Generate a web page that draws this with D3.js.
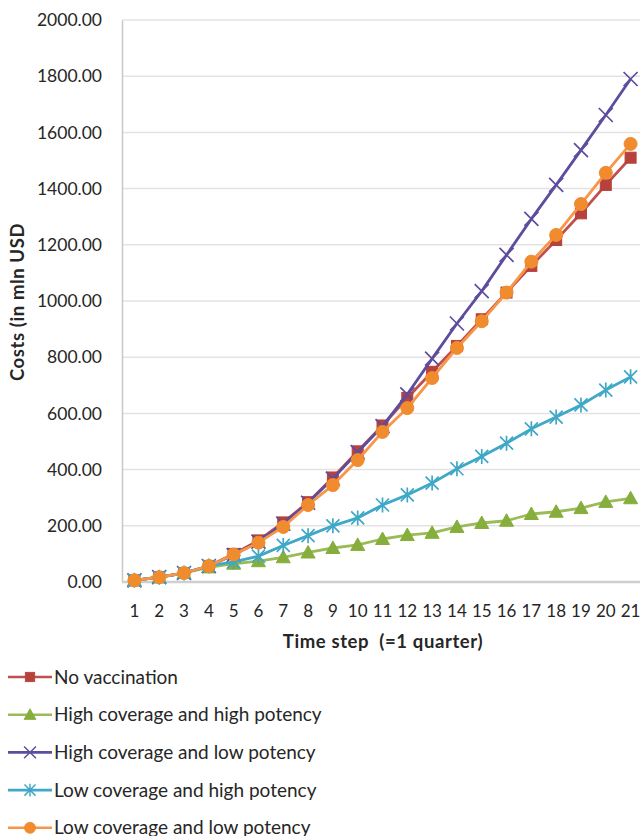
<!DOCTYPE html>
<html>
<head>
<meta charset="utf-8">
<script src="https://cdnjs.cloudflare.com/ajax/libs/d3/7.8.5/d3.min.js"></script>
<style>
  html, body { margin: 0; padding: 0; background: #fff; }
  svg { display: block; }
  text { font-family: Lato, "Open Sans", sans-serif; fill: #262626; white-space: pre; }
</style>
</head>
<body>
<svg id="chart" width="640" height="836"></svg>
<script>
// ---- data ----
const timeSteps = [1,2,3,4,5,6,7,8,9,10,11,12,13,14,15,16,17,18,19,20,21];
const yTicks = [0,200,400,600,800,1000,1200,1400,1600,1800,2000];
const seriesNames = [
  "No vaccination",
  "High coverage and high potency",
  "High coverage and low potency",
  "Low coverage and high potency",
  "Low coverage and low potency"
];
const noVaccination = [6,17,32,57,100,148,212,284,372,465,557,655,748,840,935,1030,1125,1217,1312,1413,1510];
const highCovHighPot = [6,17,32,52,65,74,88,105,121,132,153,167,175,196,210,218,242,250,263,285,298];
const highCovLowPot = [6,17,32,57,96,144,208,282,368,462,555,668,795,920,1035,1164,1292,1413,1537,1662,1790];
const lowCovHighPot = [6,17,32,57,72,92,130,165,200,228,274,310,352,403,447,494,545,587,630,683,730];
const lowCovLowPot = [6,17,32,57,98,140,196,274,345,434,534,619,726,833,928,1030,1140,1235,1345,1456,1559];
const seriesValues = [noVaccination, highCovHighPot, highCovLowPot, lowCovHighPot, lowCovLowPot];
const lineColors = ["#C0504D", "#9BBB59", "#5E4C9E", "#3FA8C6", "#F79646"];
const markerFill = ["#B7413C", "#86AE3C", "#5E4C9E", "#3FA8C6", "#F08B2E"];
const markerTypes = ["square", "triangle", "x", "star", "circle"];

// ---- layout ----
const svg = d3.select("#chart");
const plot = { left: 122, right: 643, top: 20, bottom: 582 };

const x = d3.scaleBand().domain(timeSteps).range([plot.left, plot.right]);
const y = d3.scaleLinear().domain([0, 2000]).range([plot.bottom, plot.top]);
const cx = d => x(d) + x.bandwidth() / 2;

// gridlines
svg.append("g")
  .selectAll("line")
  .data(yTicks.filter(v => v > 0))
  .join("line")
  .attr("x1", plot.left).attr("x2", 640)
  .attr("y1", d => y(d)).attr("y2", d => y(d))
  .attr("stroke", "#E3E3E3").attr("stroke-width", 1.5);

// y axis
const yAxis = d3.axisLeft(y).tickValues(yTicks).tickFormat(d3.format(".2f")).tickSize(0).tickPadding(20);
const gy = svg.append("g").attr("transform", `translate(${plot.left},0)`).call(yAxis);
gy.select(".domain").attr("stroke", "#C8C8C8").attr("stroke-width", 1.5);
gy.selectAll("text").style("font-size", "17.5px").attr("fill", "#383838");

// x axis
const xAxis = d3.axisBottom(x).tickSize(0).tickPadding(23);
const gx = svg.append("g").attr("transform", `translate(0,${plot.bottom})`).call(xAxis);
gx.select(".domain").attr("stroke", "#CFCFCF").attr("stroke-width", 2.5).attr("d", `M${plot.left},0H640`);
gx.selectAll("text").style("font-size", "17px").attr("fill", "#383838");

// axis titles
svg.append("text")
  .attr("x", 383).attr("y", 648)
  .attr("text-anchor", "middle")
  .style("font-size", "18.5px").style("font-weight", "bold").style("letter-spacing", "0.6px")
  .text("Time step  (=1 quarter)");
svg.append("text")
  .attr("transform", "translate(24,302) rotate(-90)")
  .attr("text-anchor", "middle")
  .style("font-size", "18.5px").style("font-weight", "bold").style("letter-spacing", "0.6px")
  .text("Costs (in mln USD");

// marker drawer
function drawMarker(g, type, fill, stroke) {
  if (type === "square") {
    g.append("rect").attr("x", -5.5).attr("y", -5.5).attr("width", 11).attr("height", 11)
      .attr("fill", fill).attr("stroke", stroke).attr("stroke-width", 1);
  } else if (type === "triangle") {
    g.append("path").attr("d", "M0,-7L7,5.5L-7,5.5Z")
      .attr("fill", fill).attr("stroke", stroke).attr("stroke-width", 1);
  } else if (type === "circle") {
    g.append("circle").attr("r", 6.5)
      .attr("fill", fill).attr("stroke", stroke).attr("stroke-width", 1);
  } else if (type === "x") {
    g.append("path").attr("d", "M-7,-7L7,7M-7,7L7,-7")
      .attr("stroke", stroke).attr("stroke-width", 1.7).attr("fill", "none");
  } else if (type === "star") {
    g.append("path").attr("d", "M-6.5,-6.5L6.5,6.5M-6.5,6.5L6.5,-6.5M0,-7.5L0,7.5")
      .attr("stroke", stroke).attr("stroke-width", 1.7).attr("fill", "none");
  }
}

// series
const line = d3.line().x((d, i) => cx(timeSteps[i])).y(d => y(d));
seriesValues.forEach((vals, si) => {
  const g = svg.append("g");
  g.append("path").datum(vals).attr("d", line)
    .attr("fill", "none").attr("stroke", lineColors[si]).attr("stroke-width", 2.8)
    .attr("stroke-linejoin", "round");
  vals.forEach((v, i) => {
    const m = g.append("g").attr("transform", `translate(${cx(timeSteps[i])},${y(v)})`);
    drawMarker(m, markerTypes[si], markerFill[si], markerTypes[si] === "x" || markerTypes[si] === "star" ? lineColors[si] : markerFill[si]);
  });
});

// legend
const legendY0 = 677, legendStep = 37.7;
seriesNames.forEach((name, si) => {
  const ly = legendY0 + si * legendStep;
  const g = svg.append("g");
  g.append("line").attr("x1", 8).attr("x2", 52).attr("y1", ly).attr("y2", ly)
    .attr("stroke", lineColors[si]).attr("stroke-width", 2.6);
  const m = g.append("g").attr("transform", `translate(30,${ly}) scale(0.85)`);
  drawMarker(m, markerTypes[si], markerFill[si], markerTypes[si] === "x" || markerTypes[si] === "star" ? lineColors[si] : markerFill[si]);
  g.append("text").attr("x", 54).attr("y", ly).attr("dy", "0.35em")
    .style("font-size", "19px").attr("fill", "#333")
    .text(name);
});
</script>
</body>
</html>
